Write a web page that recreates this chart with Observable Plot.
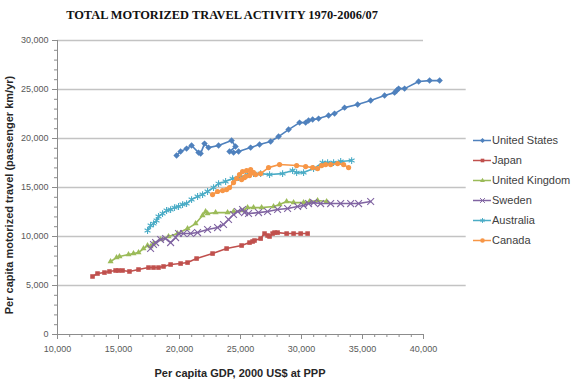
<!DOCTYPE html>
<html>
<head>
<meta charset="utf-8">
<script src="https://cdn.jsdelivr.net/npm/d3@7"></script>
<script src="https://cdn.jsdelivr.net/npm/@observablehq/plot@0.6"></script>
<style>
  html, body { margin: 0; padding: 0; background: #fff; }
  #wrap { position: relative; width: 576px; height: 386px; overflow: hidden; }
  #wrap > svg { position: absolute; left: 0; top: 0; }
  .title { position: absolute; left: 222px; top: 15px; transform: translate(-50%, -50%);
    font-family: "Liberation Serif", "Times New Roman", serif; font-weight: bold; font-size: 12.4px;
    color: #111; white-space: nowrap; }
  .ylab { position: absolute; left: 9px; top: 195px; transform: translate(-50%, -50%) rotate(-90deg);
    font-family: "Liberation Sans Narrow", "Liberation Sans", sans-serif; font-weight: bold; font-size: 11px;
    color: #262626; white-space: nowrap; }
  .xlab { position: absolute; left: 240px; top: 373px; transform: translate(-50%, -50%);
    font-family: "Liberation Sans Narrow", "Liberation Sans", sans-serif; font-weight: bold; font-size: 11px;
    color: #262626; white-space: nowrap; }
  .legend { position: absolute; left: 473px; top: 130px; font-family: "Liberation Sans", sans-serif;
    font-size: 11px; color: #404040; }
  .legend .row { position: absolute; left: 0; height: 20px; display: flex; align-items: center; white-space: nowrap; }
  .legend .row svg { position: static; display: block; margin-right: 1px; flex: none; }
</style>
</head>
<body>
<div id="wrap">
  <div class="title">TOTAL MOTORIZED TRAVEL ACTIVITY 1970-2006/07</div>
  <div class="ylab">Per capita motorized travel (passenger km/yr)</div>
  <div class="xlab">Per capita GDP, 2000 US$ at PPP</div>
  <div class="legend" id="legend"></div>
</div>
<script>
// ---- data ----
const seriesNames = ["United States", "Japan", "United Kingdom", "Sweden", "Australia", "Canada"];
const seriesColors = ["#4f81bd", "#c0504d", "#9bbb59", "#8064a2", "#4bacc6", "#f79646"];
const seriesSymbols = ["diamond2", "square2", "triangle2", "times", "asterisk", "circle"];

const usGDP = [19760, 20090, 20580, 20990, 21560, 21730, 22050, 22380, 23200, 24270, 24590, 24100, 24430, 24840, 25830, 26560, 27470, 28120, 28940, 29840, 30340, 30580, 30910, 31400, 32220, 32710, 33530, 34600, 35670, 36810, 37630, 37800, 37960, 38450, 39600, 40500, 41320];
const usTravel = [18260, 18670, 18970, 19280, 18560, 18460, 19480, 19070, 19280, 19790, 19180, 18670, 18560, 18670, 19070, 19380, 19690, 20200, 20910, 21620, 21620, 21830, 21930, 22030, 22340, 22540, 23150, 23460, 23870, 24380, 24680, 24890, 25090, 25090, 25810, 25910, 25910];

const jpGDP = [12870, 13280, 13850, 14260, 14760, 15000, 15330, 15900, 16640, 17460, 17870, 18280, 18690, 19270, 20090, 20660, 21400, 22710, 23860, 25090, 25740, 25990, 26150, 26650, 26970, 27220, 27380, 27630, 27790, 28040, 28780, 29350, 29930, 30500];
const jpTravel = [5920, 6220, 6320, 6430, 6530, 6530, 6530, 6430, 6630, 6830, 6830, 6830, 6940, 7140, 7240, 7340, 7750, 8260, 8770, 9080, 9380, 9490, 9590, 9790, 10300, 10100, 10000, 10300, 10400, 10400, 10300, 10300, 10300, 10300];

const ukGDP = [14350, 14840, 15080, 15820, 16230, 16640, 17050, 17380, 17630, 17870, 18450, 19100, 19840, 20660, 21320, 21890, 22140, 22300, 22960, 23940, 24430, 25250, 25580, 26070, 26730, 27710, 28200, 28780, 29350, 30170, 30660, 31320, 32060];
const ukTravel = [7450, 7850, 7960, 8160, 8260, 8360, 8770, 9080, 8980, 9280, 9690, 10000, 10300, 10810, 11320, 12140, 12550, 12340, 12440, 12440, 12550, 12650, 12950, 12950, 12950, 13060, 13260, 13570, 13460, 13460, 13570, 13670, 13570];

const seGDP = [17630, 17870, 18040, 18450, 18860, 19270, 19680, 19920, 20330, 20910, 21480, 22300, 23120, 23610, 24020, 24430, 24760, 25170, 25330, 25660, 26480, 27220, 28040, 28860, 29680, 30170, 30580, 30990, 31570, 32390, 33210, 34030, 34680, 35670];
const seTravel = [8770, 9180, 9380, 9690, 9790, 9380, 9890, 10300, 10300, 10300, 10400, 10710, 10910, 11220, 11730, 12240, 12550, 12750, 12440, 12340, 12440, 12550, 12750, 12850, 13060, 13160, 13360, 13460, 13360, 13360, 13360, 13360, 13360, 13570];

const auGDP = [17380, 17630, 17870, 18120, 18280, 18610, 18940, 19270, 19590, 19920, 20250, 20580, 20990, 21480, 21890, 22300, 22790, 23200, 23780, 24350, 24840, 25580, 26070, 26650, 27380, 28450, 29270, 29600, 30170, 30990, 31730, 32140, 32630, 33210, 34110];
const auTravel = [10610, 11120, 11320, 11630, 12040, 12340, 12650, 12750, 12950, 13060, 13260, 13360, 13770, 14080, 14280, 14590, 14990, 15400, 15610, 15910, 16010, 16320, 16420, 16420, 16320, 16420, 16730, 16520, 16520, 16930, 17540, 17540, 17540, 17650, 17750];

const caGDP = [22710, 23120, 23530, 23860, 24100, 24430, 24680, 24920, 25170, 25500, 25830, 26070, 25740, 25330, 25090, 25420, 25830, 26240, 26650, 27300, 28200, 29600, 30340, 30910, 31320, 31650, 31980, 32390, 32960, 33450, 33860];
const caTravel = [14280, 14590, 14690, 14790, 14990, 15500, 15910, 16320, 16630, 16730, 16830, 16520, 16220, 16010, 15810, 16120, 16420, 16320, 16420, 17030, 17340, 17240, 17140, 17030, 16930, 17240, 17340, 17340, 17440, 17340, 17030];

const xTicks = [10000, 15000, 20000, 25000, 30000, 35000, 40000];
const yTicks = [0, 5000, 10000, 15000, 20000, 25000, 30000];

// ---- build ----
const gdpArrays = [usGDP, jpGDP, ukGDP, seGDP, auGDP, caGDP];
const travelArrays = [usTravel, jpTravel, ukTravel, seTravel, auTravel, caTravel];
const series = seriesNames.map((name, i) => ({
  name, color: seriesColors[i], symbol: seriesSymbols[i],
  rows: gdpArrays[i].map((g, j) => ({gdp: g, travel: travelArrays[i][j]}))
}));

const gridColor = "#c3c3c3";
const axisColor = "#8c8c8c";
const fmt = d3.format(",");
const minorX = d3.range(10000, 40001, 1000);
const minorY = d3.range(0, 30001, 1000);

const marks = [
  Plot.ruleY(yTicks.filter(v => v > 0 && v < 30000), {y: d => d, x1: 10000, x2: 43500, stroke: gridColor, strokeWidth: 1.3}),
  Plot.ruleY([30000], {y: d => d, x1: 10000, x2: 40000, stroke: gridColor, strokeWidth: 1.3}),
  Plot.axisY({ticks: minorY, tickSize: 3, tickFormat: () => "", stroke: axisColor, label: null}),
  Plot.axisY({ticks: yTicks, tickSize: 5, tickPadding: 4, tickFormat: fmt, stroke: axisColor, fill: "#595959", label: null}),
  Plot.axisX({ticks: minorX, tickSize: 3, tickFormat: () => "", stroke: axisColor, label: null}),
  Plot.axisX({ticks: xTicks, tickSize: 5, tickPadding: 6, tickFormat: fmt, stroke: axisColor, fill: "#595959", label: null}),
  Plot.ruleX([10000], {x: d => d, y1: 0, y2: 30000, stroke: axisColor}),
  Plot.ruleY([0], {y: d => d, x1: 10000, x2: 40000, stroke: axisColor})
];
for (const s of series) {
  marks.push(Plot.line(s.rows, {x: "gdp", y: "travel", stroke: s.color, strokeWidth: 1.6}));
  const filled = ["diamond2", "square2", "triangle2", "circle"].includes(s.symbol);
  marks.push(Plot.dot(s.rows, filled
    ? {x: "gdp", y: "travel", symbol: () => s.symbol, fill: s.color, stroke: "none", r: s.symbol === "circle" ? 2.6 : 2.9}
    : {x: "gdp", y: "travel", symbol: () => s.symbol, stroke: s.color, strokeWidth: 1.1, r: 3.2}));
}

const chart = Plot.plot({
  width: 576, height: 386,
  marginLeft: 57, marginRight: 153, marginTop: 40, marginBottom: 52,
  x: {domain: [10000, 40000]},
  y: {domain: [0, 30000]},
  symbol: {type: "identity"},
  style: {fontFamily: "'Liberation Sans', sans-serif", fontSize: "9px", background: "transparent", overflow: "visible"},
  marks
});
document.getElementById("wrap").insertBefore(chart, document.getElementById("wrap").firstChild);

// ---- legend ----
const legend = document.getElementById("legend");
const rowTops = [0, 20, 40, 60, 80, 100];
series.forEach((s, i) => {
  const row = document.createElement("div");
  row.className = "row";
  row.style.top = rowTops[i] + "px";
  const sw = Plot.plot({
    width: 18, height: 10, margin: 0,
    x: {domain: [0, 2], axis: null}, y: {domain: [0, 1], axis: null},
    symbol: {type: "identity"},
    style: {background: "transparent", overflow: "visible"},
    marks: [
      Plot.ruleY([0.5], {y: d => d, x1: 0, x2: 2, stroke: s.color, strokeWidth: 1.5}),
      Plot.dot([1], {x: d => d, y: () => 0.5, symbol: () => s.symbol,
        ...(["times", "asterisk"].includes(s.symbol) ? {stroke: s.color, strokeWidth: 1} : {fill: s.color, stroke: "none"}), r: 2.3})
    ]
  });
  row.appendChild(sw);
  const t = document.createElement("span");
  t.textContent = s.name;
  row.appendChild(t);
  legend.appendChild(row);
});
</script>
</body>
</html>
